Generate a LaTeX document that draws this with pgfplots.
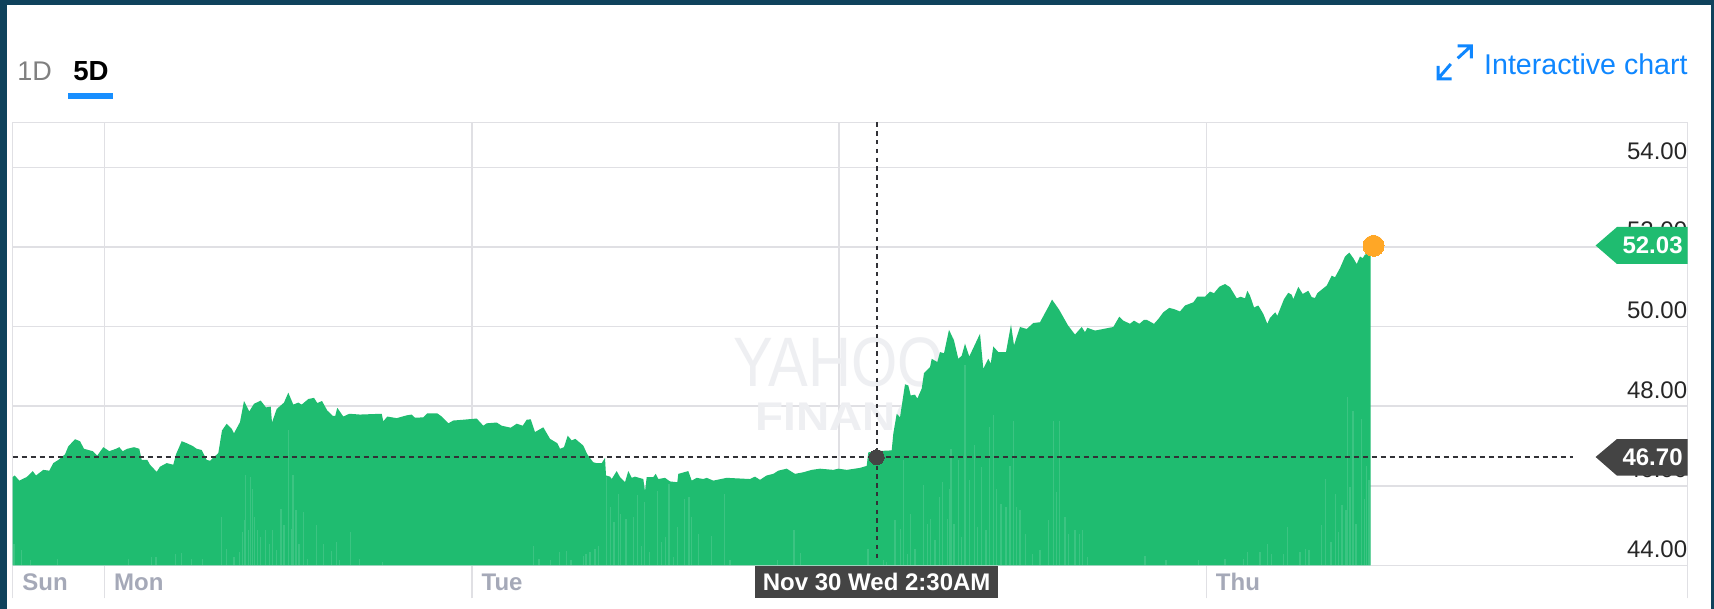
\documentclass[border=0pt]{standalone}
\usepackage{graphicx}
\usepackage{pgfplots}
\pgfplotsset{compat=1.18}
\usepackage{fontspec}
\setmainfont{Liberation Sans}
\definecolor{frame}{RGB}{15,66,92}
\definecolor{gridc}{RGB}{224,224,228}
\definecolor{area}{RGB}{31,188,112}
\definecolor{dark}{RGB}{68,68,68}
\definecolor{link}{RGB}{15,135,255}
\definecolor{tab}{RGB}{24,143,255}
\definecolor{day}{RGB}{165,169,184}
\definecolor{wm}{RGB}{238,239,242}
\definecolor{cross}{RGB}{50,50,55}
\definecolor{orangedot}{RGB}{255,167,38}
\begin{document}
\begin{tikzpicture}
\useasboundingbox (0,0) rectangle (857pt,-304.5pt);
\fill[frame] (0,0) rectangle (857pt,-304.5pt);
\begin{scope}[x=0.5pt,y=-0.5pt]
\fill[white] (7,5) rectangle (1710.7,609);
\node[anchor=base west,inner sep=0,font=\fontsize{13.5}{13}\selectfont,text=black!50] at (17,81) {1D};
\node[anchor=base west,inner sep=0,font=\fontsize{13.8}{13}\selectfont\bfseries,text=black] at (73,81) {5D};
\fill[tab] (68.3,93.2) rectangle (113,99);
\node[anchor=base east,inner sep=0,font=\fontsize{14.3}{14}\selectfont,text=link] at (1688,75) {Interactive chart};
\draw[link,line width=1.5pt] (1457.7,45.8)--(1471.3,45.8)--(1471.3,58.3) (1471.3,45.8)--(1457.7,58.3);
\draw[link,line width=1.5pt] (1451.7,78.8)--(1438,78.8)--(1438,66) (1438,78.8)--(1450.8,64);
\end{scope}
\begin{axis}[
  at={(6.35pt,-61.15pt)},anchor=north west,
  scale only axis,width=837.45pt,height=221.55pt,
  xmin=12.7,xmax=1687.6,ymin=44,ymax=55.133,
  axis line style={gridc,line width=.75pt},
  grid=major,grid style={gridc,line width=.75pt},
  xtick={12.7,104.5,472,839,1206.3,1687.6},
  xticklabels={Sun,Mon,Tue,,Thu,},
  ytick={44,46,48,50,52,54},
  xtick pos=bottom,
  tick align=outside,
  major tick length=16.5pt,
  xtick style={gridc,line width=.75pt},
  ytick style={draw=none},
  yticklabel pos=right,
  xticklabel style={anchor=west,font=\fontsize{12}{12}\selectfont\bfseries,text=day,xshift=1.3pt,yshift=-0.5pt},
  xticklabel shift=-8.5pt,
  yticklabel style={anchor=south east,font=\fontsize{12}{12}\selectfont,text=black!85,xshift=-0.2pt,yshift=0.4pt,
    /pgf/number format/fixed,/pgf/number format/fixed zerofill,/pgf/number format/precision=2,/pgf/number format/assume math mode=true},
  yticklabel shift=-13pt,
]
\node[anchor=base west,inner sep=0,font=\fontsize{35}{35}\selectfont,text=wm] at (axis cs:733,48.49) {\scalebox{.85}[1]{YAHOO!}};
\node[anchor=base west,inner sep=0,font=\fontsize{20}{20}\selectfont\bfseries,text=wm] at (axis cs:755,47.40) {\scalebox{1.15}[1]{FINANCE}};
\addplot[fill=area,draw=none] coordinates {
(12.7,46.22)(14.7,46.26)(19.3,46.13)(26.7,46.22)(32.7,46.37)(36,46.26)(43.3,46.40)(49.3,46.38)(53.3,46.57)(58.3,46.65)
(65,46.79)(68.3,46.99)(75,47.17)(80,47.12)(84,46.93)(92.7,46.87)(97.3,46.76)(103.3,46.97)(109.3,46.87)(116,46.93)
(119.3,46.97)(122.7,46.87)(127.3,46.93)(134,46.97)(139.3,46.93)(141.7,46.65)(147.3,46.65)(150,46.53)(156.7,46.35)(160,46.48)
(166.7,46.57)(173.3,46.53)(176,46.79)(181.7,47.12)(186.7,47.07)(192.7,47.00)(196.7,46.93)(201.7,46.90)(206.7,46.65)(210,46.63)
(218.3,46.82)(222,47.39)(226.7,47.56)(231.7,47.43)(234,47.32)(240,47.60)(244,48.13)(249.3,47.87)(254,48.06)(260.7,48.14)
(266,47.97)(270.7,47.99)(272,47.59)(276.7,47.93)(284,48.09)(288.3,48.34)(293.3,48.04)(298.3,48.09)(301.7,48.04)(308.3,48.18)
(314,48.21)(317.3,48.08)(322,48.13)(327.3,47.89)(332.7,47.76)(335.3,47.76)(337.3,47.96)(343.3,47.74)(349.3,47.81)(360,47.79)
(381.7,47.81)(383.3,47.62)(387.3,47.74)(396.7,47.70)(406.7,47.77)(411.7,47.79)(415,47.71)(423.3,47.72)(427.3,47.82)(437.3,47.82)
(441.7,47.74)(448.3,47.57)(453.3,47.64)(463.3,47.66)(476.7,47.69)(483.3,47.51)(486.7,47.57)(496.7,47.59)(501.7,47.51)(510.7,47.46)
(516.7,47.56)(522.7,47.51)(526.7,47.66)(530.7,47.67)(535,47.35)(543.3,47.47)(550,47.18)(557.3,47.07)(560,46.93)(564,46.97)
(567.7,47.26)(571.7,47.14)(575.3,47.18)(583.3,47.01)(587.3,46.79)(593.3,46.59)(596.7,46.57)(601.7,46.57)(605,46.70)(606,46.26)
(610,46.23)(611.7,46.17)(616.7,46.37)(620,46.22)(625,46.09)(628.3,46.37)(631.7,46.20)(635,46.23)(643.3,46.17)(645,45.86)
(646.7,46.22)(653.3,46.22)(655.7,46.30)(658.3,46.17)(665,46.20)(670,46.11)(677.3,46.09)(678.3,46.30)(688.3,46.37)(691.7,46.13)
(696.7,46.20)(703.3,46.17)(706.7,46.20)(713.3,46.13)(726.7,46.20)(750,46.17)(755,46.23)(760,46.15)(766.7,46.26)(773.3,46.30)
(778.3,46.38)(786.7,46.43)(795,46.30)(803.3,46.34)(811.7,46.40)(820,46.43)(833.3,46.40)(838.3,46.43)(846.7,46.40)(860,46.45)
(866.7,46.50)(868.3,46.84)(876,46.87)(891.7,46.89)(893.3,47.31)(896.7,47.81)(900,47.72)(905,48.55)(908.3,48.52)(910.7,48.27)
(915,48.29)(917.3,48.19)(921.7,48.44)(924,48.83)(930,48.98)(931.7,49.19)(937.3,49.11)(940,49.36)(944,49.33)(949,49.92)
(954,49.65)(958.3,49.19)(961.7,49.27)(965,49.57)(969.3,49.25)(980,49.82)(983.3,48.94)(988.3,49.19)(990.7,49.07)(993.3,49.50)
(998.3,49.36)(1006,49.36)(1011,50.05)(1014,49.53)(1020,49.99)(1026.7,49.94)(1033.3,50.09)(1040,50.11)(1048,50.48)(1052,50.68)
(1059,50.43)(1068,50.03)(1075,49.80)(1081.7,49.99)(1085,49.86)(1087.3,49.97)(1095,49.90)(1113.3,49.99)(1119.3,50.25)(1123.3,50.15)
(1130,50.07)(1134,50.15)(1139.3,50.07)(1144,50.17)(1146.7,50.17)(1154,50.07)(1158.3,50.19)(1163.3,50.36)(1169.3,50.47)(1174,50.44)
(1180,50.38)(1185,50.53)(1193.3,50.61)(1197.3,50.75)(1205,50.75)(1210,50.88)(1214,50.84)(1219.3,51.00)(1225,51.07)(1230,50.99)
(1236.7,50.71)(1240.7,50.75)(1245,50.71)(1247.3,50.90)(1250,50.78)(1254,50.48)(1258.3,50.53)(1263.3,50.32)(1267.3,50.07)(1270,50.22)
(1275.3,50.36)(1277.3,50.27)(1284,50.69)(1288.3,50.85)(1291.7,50.80)(1293.3,50.69)(1298.3,51.00)(1302.7,50.82)(1308.3,50.90)(1311.7,50.74)
(1315,50.72)(1317.3,50.84)(1326.7,51.03)(1331.7,51.28)(1335,51.24)(1340,51.47)(1345,51.76)(1349.3,51.86)(1353.3,51.72)(1356.7,51.57)
(1360,51.76)(1362.7,51.72)(1365,51.81)(1370.7,51.84)
} \closedcycle;
\addplot[ycomb,white,opacity=.13,line width=.6pt,no marks] coordinates {
(14,44.54)(21.3,44.39)(30.7,44.13)(57.3,44.17)(128.3,44.17)(151.7,44.21)(156,44.21)(175.7,44.29)(181.7,44.31)(191.7,44.17)
(202.7,44.17)(221.7,45.21)(226.7,44.42)(234,44.21)(239.3,44.34)(242.3,44.84)(244.7,45.13)(245.7,46.26)(248.3,44.88)(250.3,46.22)
(252.7,45.93)(254.3,45.21)(257.3,44.88)(260.7,44.71)(265.7,44.88)(269.3,44.54)(272.3,44.88)(276.7,44.38)(281,45.42)(284,45.01)
(288.3,47.39)(291.7,44.92)(293,46.26)(296,45.38)(299,44.54)(303.3,45.34)(307.3,44.17)(316.7,45.01)(323.3,44.53)(331.7,44.36)
(336.3,44.59)(339.3,44.13)(350.3,44.84)(359.3,44.17)(382.7,44.08)(533.3,44.48)(539,44.17)(550.7,44.14)(559.3,44.33)(566.7,44.36)
(571,44.14)(583.3,44.23)(586,44.28)(590,44.34)(595,44.42)(598.3,44.50)(606.7,46.22)(610.7,45.47)(614,45.09)(618.3,45.80)
(620.7,45.30)(626,45.17)(633.3,45.21)(637.3,45.76)(641.7,44.50)(644.3,45.59)(649.3,44.34)(657.3,45.88)(661.7,44.59)(665.3,44.71)
(669,46.05)(673.3,44.21)(677.3,44.96)(684.3,45.68)(689,45.72)(691.7,45.21)(698.3,44.80)(711.7,44.75)(724.3,45.80)(730,44.13)
(777.7,44.13)(794,44.88)(800.7,44.31)(868,44.42)(883.3,44.13)(886.7,44.08)(895,45.13)(900.7,44.92)(903.3,46.64)(907.3,44.29)
(910.7,45.30)(915,44.42)(923.3,46.01)(927.3,45.05)(930.7,45.17)(935,44.63)(939.3,45.72)(942.7,46.09)(947.3,45.17)(950,45.93)
(951,46.93)(954,45.05)(958.3,46.64)(961.7,44.71)(965,49.03)(969.3,46.14)(974.3,47.02)(977.7,44.96)(981.7,46.47)(986,44.88)
(989.3,47.48)(993.3,47.77)(996.7,45.93)(1001,45.55)(1006,45.47)(1010,46.51)(1013.3,47.64)(1016.7,45.47)(1020,45.38)(1025.7,44.80)
(1032.7,44.29)(1040,44.38)(1048.3,45.13)(1053.3,47.64)(1056.7,45.84)(1059.3,47.64)(1065,45.21)(1068.3,44.80)(1075,44.88)(1079.3,44.80)
(1082.7,44.88)(1087.3,44.21)(1145,44.23)(1166,44.13)(1198.3,44.13)(1225,44.17)(1243.3,44.17)(1247.7,44.34)(1260,44.34)(1267.7,44.54)
(1271.7,44.29)(1283.3,44.29)(1287.7,44.96)(1300,44.34)(1305.7,44.42)(1309,44.38)(1321.7,45.01)(1325.7,46.18)(1331,44.59)(1335.3,45.80)
(1338.3,44.84)(1342,45.51)(1346,45.38)(1347.3,48.23)(1350,45.97)(1353,47.89)(1356,45.05)(1361.7,47.69)(1364.3,45.68)(1366.3,46.51)(1369,46.14)
};
\addplot[cross,line width=1.1pt,dash pattern=on 2.5pt off 2pt,no marks] coordinates {(12.7,46.72)(1573,46.72)};
\addplot[cross,line width=1.1pt,dash pattern=on 2.2pt off 2.2pt,no marks] coordinates {(876.7,55.13)(876.7,44.1)};
\addplot[only marks,mark=*,mark size=3.75pt,color=dark,mark options={solid,fill=dark,draw=dark,line width=0pt}] coordinates {(876.7,46.72)};
\addplot[only marks,mark=*,mark size=5.25pt,color=orangedot,mark options={solid,fill=orangedot,draw=orangedot,line width=0pt}] coordinates {(1373.5,52.03)};
\end{axis}
\begin{scope}[x=0.5pt,y=-0.5pt]
\fill[area] (1595.6,245.5)--(1617,227)--(1687.6,227)--(1687.6,264)--(1617,264)--cycle;
\node[anchor=east,inner sep=0,font=\fontsize{12}{12}\selectfont\bfseries,text=white] at (1683,245.5) {52.03};
\fill[dark] (1595.6,457)--(1617,439)--(1687.6,439)--(1687.6,475.7)--(1617,475.7)--cycle;
\node[anchor=east,inner sep=0,font=\fontsize{12}{12}\selectfont\bfseries,text=white] at (1683,457) {46.70};
\fill[dark] (755,565.7) rectangle (998,598);
\node[anchor=center,inner sep=0,font=\fontsize{12}{12}\selectfont\bfseries,text=white] at (876.7,582) {Nov 30 Wed 2:30AM};
\end{scope}
\end{tikzpicture}
\end{document}
